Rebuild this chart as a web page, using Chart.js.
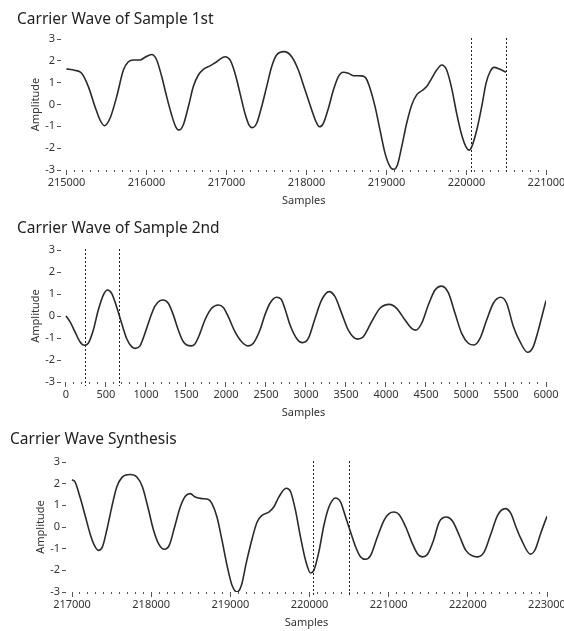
<!DOCTYPE html>
<html>
<head>
<meta charset="utf-8">
<script src="https://cdn.jsdelivr.net/npm/chart.js@4.4.0/dist/chart.umd.min.js"></script>
<style>
html, body { margin: 0; padding: 0; background: #fff; overflow: hidden; }
.panel { position: relative; width: 564px; height: 210px; }
.panel.last { height: 211px; }
canvas { display: block; }
</style>
</head>
<body>
<div class="panel"><canvas id="wave1"></canvas></div>
<div class="panel"><canvas id="wave2"></canvas></div>
<div class="panel last"><canvas id="wave3"></canvas></div>
<script>
// first recording, samples 215000 - 220495
var samples1 = [215000, 215101, 215189, 215273, 215356, 215419, 215473, 215544, 215627, 215711,
  215773, 215836, 215919, 215981, 216065, 216127, 216190, 216252, 216314, 216365,
  216406, 216459, 216523, 216585, 216648, 216711, 216794, 216877, 216981, 217044,
  217106, 217169, 217231, 217282, 217323, 217377, 217439, 217502, 217564, 217626,
  217720, 217815, 217898, 217982, 218065, 218119, 218161, 218211, 218273, 218336,
  218398, 218461, 218523, 218586, 218690, 218744, 218794, 218857, 218919, 218982,
  219044, 219086, 219136, 219190, 219252, 219315, 219377, 219440, 219502, 219565,
  219627, 219690, 219752, 219815, 219877, 219940, 219994, 220032, 220065, 220128,
  220190, 220244, 220294, 220344, 220419, 220494];
var amp1 = [1.63, 1.57, 1.43, 0.82, -0.1, -0.71, -0.97, -0.63, 0.36, 1.58,
  1.96, 2.04, 2.04, 2.16, 2.29, 2.04, 1.28, 0.36, -0.48, -1.02,
  -1.17, -0.94, -0.1, 0.82, 1.35, 1.61, 1.77, 1.96, 2.19, 2.04,
  1.43, 0.51, -0.41, -0.94, -1.06, -0.86, -0.1, 0.82, 1.73, 2.27,
  2.42, 2.19, 1.58, 0.66, -0.25, -0.79, -1.02, -0.86, -0.18, 0.66,
  1.28, 1.48, 1.43, 1.32, 1.31, 1.2, 0.74, -0.1, -1.17, -2.24,
  -2.85, -2.97, -2.78, -1.93, -0.86, -0.02, 0.44, 0.63, 0.82, 1.2,
  1.58, 1.81, 1.58, 0.74, -0.41, -1.4, -1.94, -2.09, -1.94, -1.17,
  -0.1, 0.97, 1.5, 1.7, 1.61, 1.48];
var cut1 = [220055, 220495];

// second recording, samples 0 - 6000
var samples2 = [0, 50, 112, 175, 229, 279, 342, 404, 467, 517,
  571, 633, 696, 758, 821, 871, 925, 987, 1050, 1112,
  1175, 1217, 1279, 1342, 1404, 1467, 1562, 1612, 1675, 1737,
  1821, 1904, 1967, 2029, 2112, 2196, 2279, 2342, 2425, 2487,
  2550, 2633, 2690, 2740, 2800, 2883, 2958, 3029, 3113, 3196,
  3288, 3363, 3446, 3529, 3642, 3717, 3821, 3925, 4042, 4133,
  4238, 4321, 4375, 4446, 4529, 4613, 4696, 4779, 4863, 4946,
  5029, 5100, 5175, 5258, 5342, 5433, 5508, 5592, 5675, 5770,
  5840, 5900, 5950, 6000];
var amp2 = [0, -0.26, -0.71, -1.17, -1.33, -1.24, -0.64, 0.27, 0.95, 1.18,
  1.03, 0.42, -0.33, -1.02, -1.39, -1.47, -1.36, -0.79, -0.11, 0.45,
  0.7, 0.73, 0.58, 0.05, -0.64, -1.17, -1.36, -1.27, -0.79, -0.18,
  0.35, 0.5, 0.39, -0.03, -0.71, -1.17, -1.36, -1.24, -0.64, 0.05,
  0.58, 0.85, 0.76, 0.3, -0.4, -1.02, -1.21, -1.02, -0.11, 0.73,
  1.11, 0.88, 0.12, -0.64, -1.05, -0.94, -0.26, 0.35, 0.53, 0.35,
  -0.18, -0.56, -0.64, -0.33, 0.5, 1.18, 1.36, 1.06, 0.12, -0.79,
  -1.24, -1.32, -1.02, -0.18, 0.58, 0.85, 0.58, -0.48, -1.17, -1.65,
  -1.4, -0.7, 0.0, 0.7];
var cut2 = [240, 665];

// spliced result, samples 217000 - 223000
var samples3 = [217000, 217038, 217101, 217165, 217228, 217283, 217333, 217384, 217439, 217502,
  217565, 217629, 217734, 217819, 217890, 217958, 218030, 218093, 218165, 218228,
  218296, 218367, 218431, 218494, 218557, 218642, 218718, 218768, 218831, 218895,
  218958, 219021, 219085, 219140, 219199, 219275, 219338, 219401, 219486, 219549,
  219612, 219705, 219760, 219823, 219886, 219950, 220013, 220055, 220118, 220182,
  220245, 220329, 220393, 220456, 220511, 220583, 220646, 220709, 220772, 220857,
  220941, 221005, 221068, 221131, 221216, 221300, 221363, 221427, 221490, 221566,
  221638, 221730, 221806, 221891, 221975, 222123, 222207, 222292, 222376, 222473,
  222545, 222608, 222671, 222790, 222850, 222920, 223000];
var amp3 = [2.18, 2.08, 1.38, 0.54, -0.31, -0.85, -1.08, -0.92, -0.15, 0.92,
  1.85, 2.28, 2.42, 2.31, 1.85, 0.92, -0.15, -0.77, -1.03, -0.85,
  0, 0.92, 1.42, 1.54, 1.38, 1.31, 1.28, 1.08, 0.46, -0.62,
  -1.77, -2.69, -3.0, -2.69, -1.69, -0.54, 0.23, 0.54, 0.69, 0.92,
  1.38, 1.79, 1.64, 0.77, -0.46, -1.54, -2.12, -2.0, -1.15, 0.08,
  0.92, 1.34, 1.15, 0.46, -0.15, -0.92, -1.38, -1.49, -1.31, -0.46,
  0.31, 0.62, 0.69, 0.58, 0, -0.77, -1.23, -1.38, -1.26, -0.62,
  0.23, 0.46, 0.28, -0.38, -1.08, -1.38, -1.15, -0.31, 0.54, 0.85,
  0.62, 0, -0.54, -1.25, -1.05, -0.3, 0.5];
var cut3 = [220050, 220500];

var ampTicks = [-3, -2, -1, 0, 1, 2, 3];

var FONT = "'Noto Sans', 'Open Sans', sans-serif";
var INK = '#333';

// dotted vertical markers for the splice window
var cutLines = {
    id: 'cutLines',
    afterDatasetsDraw: function (chart, args, opts) {
        var ctx = chart.ctx, area = chart.chartArea, sx = chart.scales.x;
        ctx.save();
        ctx.strokeStyle = '#222';
        ctx.lineWidth = 1;
        ctx.setLineDash([2, 2]);
        opts.at.forEach(function (v) {
            var px = Math.round(sx.getPixelForValue(v)) + 0.5;
            ctx.beginPath();
            ctx.moveTo(px, area.top - 1);
            ctx.lineTo(px, area.bottom + 4);
            ctx.stroke();
        });
        ctx.restore();
    }
};

function waveChart(id, title, xs, ys, first, last, major, cuts, g) {
    var pts = xs.map(function (x, i) { return { x: x, y: ys[i] }; });
    return new Chart(document.getElementById(id), {
        type: 'line',
        data: {
            datasets: [{
                data: pts,
                borderColor: '#2a2a2a',
                borderWidth: 1.6,
                pointRadius: 0,
                fill: false,
                cubicInterpolationMode: 'monotone'
            }]
        },
        options: {
            responsive: true,
            maintainAspectRatio: false,
            animation: false,
            events: [],
            layout: { padding: { left: g.left, right: g.right, top: 0, bottom: 0 } },
            plugins: {
                legend: { display: false },
                tooltip: { enabled: false },
                title: {
                    display: true,
                    text: title,
                    align: 'start',
                    color: '#222',
                    font: { family: FONT, size: 15.5, weight: 'normal' },
                    padding: { top: g.titleTop, bottom: g.titleBottom }
                },
                cutLines: { at: cuts }
            },
            scales: {
                x: {
                    type: 'linear',
                    min: first - g.lead,
                    max: last,
                    afterBuildTicks: function (s) {
                        var t = [];
                        for (var v = first; v <= last; v += 100) t.push({ value: v });
                        s.ticks = t;
                    },
                    afterFit: function (s) {
                        s.paddingLeft = 0;
                        s.paddingRight = 0;
                        s.height = g.xHeight;
                    },
                    ticks: {
                        autoSkip: false,
                        maxRotation: 0,
                        padding: 1,
                        color: INK,
                        font: { family: FONT, size: 11 },
                        callback: function (v) { return v % major === 0 ? String(v) : ''; }
                    },
                    grid: {
                        drawOnChartArea: false,
                        tickLength: 5,
                        tickColor: '#555',
                        tickBorderDash: function (c) {
                            return c.tick && c.tick.value % major === 0 ? [] : [2, 3];
                        }
                    },
                    border: { display: false },
                    title: {
                        display: true,
                        text: 'Samples',
                        color: INK,
                        font: { family: FONT, size: 11 },
                        padding: { top: 0, bottom: g.xTitle }
                    }
                },
                y: {
                    min: -3,
                    max: 3,
                    afterBuildTicks: function (s) {
                        s.ticks = ampTicks.map(function (v) { return { value: v }; });
                    },
                    afterFit: function (s) { s.width = g.yWidth; },
                    ticks: {
                        padding: 2,
                        color: INK,
                        font: { family: FONT, size: 11 }
                    },
                    grid: { drawOnChartArea: false, tickLength: 4, tickColor: '#555' },
                    border: { display: false },
                    title: {
                        display: true,
                        text: 'Amplitude',
                        color: INK,
                        font: { family: FONT, size: 11 },
                        padding: { top: g.yTitle, bottom: 0 }
                    }
                }
            }
        },
        plugins: [cutLines]
    });
}

waveChart('wave1', 'Carrier Wave of Sample 1st', samples1, amp1, 215000, 221000, 1000, cut1,
    { left: 17, right: 17.5, lead: 69, yWidth: 44, yTitle: 12.4, titleTop: 10.7, titleBottom: 9.7, xHeight: 40, xTitle: 3 });
waveChart('wave2', 'Carrier Wave of Sample 2nd', samples2, amp2, 0, 6000, 500, cut2,
    { left: 17, right: 18, lead: 62, yWidth: 44, yTitle: 12.4, titleTop: 9.7, titleBottom: 11.7, xHeight: 38, xTitle: 1 });
waveChart('wave3', 'Carrier Wave Synthesis', samples3, amp3, 217000, 223000, 1000, cut3,
    { left: 10, right: 17, lead: 76, yWidth: 56, yTitle: 24.4, titleTop: 10.7, titleBottom: 12.7, xHeight: 39, xTitle: 2 });
</script>
</body>
</html>
